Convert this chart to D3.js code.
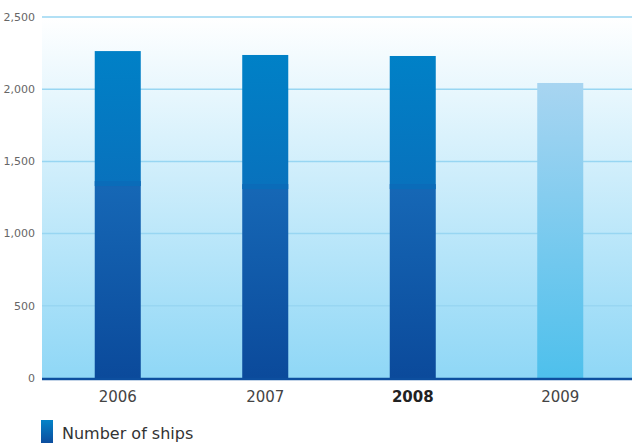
<!DOCTYPE html>
<html>
<head>
<meta charset="utf-8">
<script src="https://cdn.jsdelivr.net/npm/d3@7"></script>
<style>
  body { margin: 0; background: #fff; }
  svg { display: block; }
</style>
</head>
<body>
<script>
const years = ["2006", "2007", "2008", "2009"];
const lowerPart = [1364, 1343, 1343, 0];
const totalShips = [2264, 2237, 2230, 2043];
const yTicks = [0, 500, 1000, 1500, 2000, 2500];
const legendLabel = "Number of ships";

const width = 632, height = 446;
const margin = { top: 17, right: 0, bottom: 68, left: 42 };

const svg = d3.select("body").append("svg")
  .attr("width", width)
  .attr("height", height);
const defs = svg.append("defs");

function vGrad(id, top, bottom) {
  const g = defs.append("linearGradient").attr("id", id)
    .attr("x1", 0).attr("x2", 0).attr("y1", 0).attr("y2", 1);
  g.append("stop").attr("offset", "0%").attr("stop-color", top);
  g.append("stop").attr("offset", "100%").attr("stop-color", bottom);
}
vGrad("bg", "#ffffff", "#8fd7f6");
vGrad("lower", "#1668b6", "#0b4a9b");
vGrad("upper", "#0081c7", "#0872bd");
vGrad("light", "#a8d5f1", "#4ec0ec");
vGrad("legend", "#0383c8", "#0c4d9e");

const x = d3.scaleBand()
  .domain(years)
  .range([margin.left + 2, width - margin.right + 2])
  .paddingInner(0.688)
  .paddingOuter(0.344);
const y = d3.scaleLinear()
  .domain([0, 2500])
  .range([height - margin.bottom, margin.top]);

// plot background
svg.append("rect")
  .attr("x", margin.left).attr("y", y(2500))
  .attr("width", width - margin.right - margin.left)
  .attr("height", y(0) - y(2500))
  .attr("fill", "url(#bg)");

// grid lines
svg.append("g")
  .selectAll("line")
  .data(yTicks.filter(d => d > 0))
  .join("line")
  .attr("x1", margin.left).attr("x2", width - margin.right)
  .attr("y1", d => y(d)).attr("y2", d => y(d))
  .attr("stroke", "#98d6f2")
  .attr("stroke-width", 1.5);

// y tick labels
svg.append("g")
  .selectAll("text")
  .data(yTicks)
  .join("text")
  .attr("x", 35)
  .attr("y", d => y(d))
  .attr("dy", "0.35em")
  .attr("text-anchor", "end")
  .attr("font-family", "DejaVu Sans, sans-serif")
  .attr("font-size", 11)
  .attr("fill", "#666")
  .text(d => d3.format(",")(d));

// bars
const bars = svg.append("g")
  .selectAll("g")
  .data(years.map((yr, i) => ({ yr, lower: lowerPart[i], total: totalShips[i] })))
  .join("g");

bars.filter(d => d.lower > 0).append("rect")
  .attr("x", d => x(d.yr)).attr("width", x.bandwidth())
  .attr("y", d => y(d.total)).attr("height", d => y(d.lower) - y(d.total))
  .attr("fill", "url(#upper)");
bars.filter(d => d.lower > 0).append("rect")
  .attr("x", d => x(d.yr)).attr("width", x.bandwidth())
  .attr("y", d => y(d.lower)).attr("height", d => y(0) - y(d.lower))
  .attr("fill", "url(#lower)");
bars.filter(d => d.lower > 0).append("rect")
  .attr("x", d => x(d.yr)).attr("width", x.bandwidth())
  .attr("y", d => y(d.lower)).attr("height", 5)
  .attr("fill", "#0a6cb9");
bars.filter(d => d.lower === 0).append("rect")
  .attr("x", d => x(d.yr)).attr("width", x.bandwidth())
  .attr("y", d => y(d.total)).attr("height", d => y(0) - y(d.total))
  .attr("fill", "url(#light)");

// baseline
svg.append("line")
  .attr("x1", margin.left).attr("x2", width - margin.right)
  .attr("y1", y(0) + 1).attr("y2", y(0) + 1)
  .attr("stroke", "#0d4f9f")
  .attr("stroke-width", 2.5);

// x labels
svg.append("g")
  .selectAll("text")
  .data(years)
  .join("text")
  .attr("x", d => x(d) + x.bandwidth() / 2)
  .attr("y", 402)
  .attr("text-anchor", "middle")
  .attr("font-family", "DejaVu Sans, sans-serif")
  .attr("font-size", 15)
  .attr("font-weight", d => d === "2008" ? "bold" : "normal")
  .attr("fill", d => d === "2008" ? "#222" : "#444")
  .text(d => d);

// legend
svg.append("rect")
  .attr("x", 41).attr("y", 420)
  .attr("width", 12).attr("height", 23)
  .attr("fill", "url(#legend)");
svg.append("text")
  .attr("x", 62).attr("y", 439)
  .attr("font-family", "DejaVu Sans, sans-serif")
  .attr("font-size", 16)
  .attr("fill", "#333")
  .text(legendLabel);
</script>
</body>
</html>
